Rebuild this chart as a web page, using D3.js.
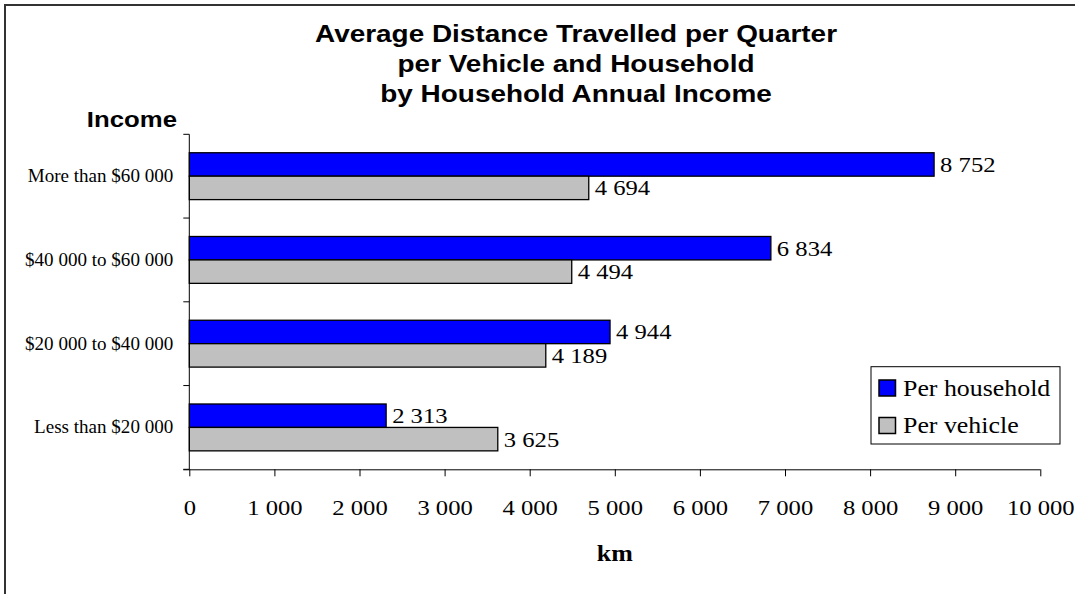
<!DOCTYPE html>
<html>
<head>
<meta charset="utf-8">
<script src="https://cdn.jsdelivr.net/npm/d3@7"></script>
<style>
  html, body { margin: 0; padding: 0; background: #fff; }
  svg { display: block; }
</style>
</head>
<body>
<svg id="chart" width="1075" height="594"></svg>
<script>
// Income brackets, listed from the top of the chart down
const categories = ["More than $60 000", "$40 000 to $60 000", "$20 000 to $40 000", "Less than $20 000"];
const seriesNames = ["Per household", "Per vehicle"];
const perHousehold = [8752, 6834, 4944, 2313];
const perVehicle = [4694, 4494, 4189, 3625];
const xTicks = [0, 1000, 2000, 3000, 4000, 5000, 6000, 7000, 8000, 9000, 10000];
const titleLines = ["Average Distance Travelled per Quarter", "per Vehicle and Household", "by Household Annual Income"];

const colors = { "Per household": "#0000FF", "Per vehicle": "#C0C0C0" };
const SERIF = "'Liberation Serif', 'Times New Roman', serif";
const SANS = "'Liberation Sans', Arial, sans-serif";

const svg = d3.select("#chart");

// outer frame
svg.append("rect")
  .attr("x", 5).attr("y", 5).attr("width", 1100).attr("height", 700)
  .attr("fill", "#fff").attr("stroke", "#333").attr("stroke-width", 2);

const plot = { left: 189.3, right: 1040.3, top: 134.3, bottom: 469.3 };

const x = d3.scaleLinear().domain([0, 10000]).range([plot.left, plot.right]);
const y = d3.scaleBand().domain(categories).range([plot.top, plot.bottom]).padding(0);
const inner = d3.scaleBand().domain(seriesNames).range([0, y.bandwidth()])
  .paddingInner(0).paddingOuter(0.787);

const rows = categories.map((c, i) => ({
  category: c,
  values: [
    { series: "Per household", value: perHousehold[i] },
    { series: "Per vehicle", value: perVehicle[i] }
  ]
}));

const fmt = v => d3.format(",")(v).replace(/,/g, " ");

// bars
const groups = svg.append("g").selectAll("g").data(rows).join("g")
  .attr("transform", d => `translate(0,${y(d.category)})`);

groups.selectAll("rect").data(d => d.values).join("rect")
  .attr("x", x(0))
  .attr("y", d => inner(d.series))
  .attr("width", d => x(d.value) - x(0))
  .attr("height", inner.bandwidth())
  .attr("fill", d => colors[d.series])
  .attr("stroke", "#000").attr("stroke-width", 1.3);

// value labels
groups.selectAll("text").data(d => d.values).join("text")
  .attr("transform", d => `translate(${x(d.value) + 6},${inner(d.series) + inner.bandwidth() / 2 + 7.5}) scale(1.12,1)`)
  .attr("font-family", SERIF).attr("font-size", 22).attr("fill", "#000")
  .text(d => fmt(d.value));

// x axis
const xAxis = svg.append("g")
  .attr("transform", `translate(0,${plot.bottom})`)
  .call(d3.axisBottom(x).tickValues(xTicks).tickSize(7).tickSizeOuter(0).tickFormat(fmt));
xAxis.select(".domain").attr("stroke", "#000").attr("d", `M${plot.left - 6},0.5H${plot.right}`);
xAxis.selectAll(".tick line").attr("stroke", "#000");
xAxis.selectAll(".tick text")
  .attr("y", 46).attr("dy", 0)
  .attr("transform", "scale(1.12,1)")
  .attr("font-family", SERIF).attr("font-size", 22).attr("fill", "#000");

// y axis: line, ticks on band boundaries, labels centred in bands
const yAxis = svg.append("g");
yAxis.append("line")
  .attr("x1", plot.left).attr("x2", plot.left)
  .attr("y1", plot.top).attr("y2", plot.bottom)
  .attr("stroke", "#000");
const bounds = categories.map(c => y(c)).concat([y(categories[categories.length - 1]) + y.bandwidth()]);
yAxis.selectAll("line.tick").data(bounds).join("line")
  .attr("class", "tick")
  .attr("x1", plot.left - 6).attr("x2", plot.left)
  .attr("y1", d => d).attr("y2", d => d)
  .attr("stroke", "#000");
yAxis.selectAll("text").data(categories).join("text")
  .attr("transform", d => `translate(${plot.left - 16},${y(d) + y.bandwidth() / 2 + 6}) scale(1.06,1)`)
  .attr("text-anchor", "end")
  .attr("font-family", SERIF).attr("font-size", 18).attr("fill", "#000")
  .text(d => d);

// axis titles
svg.append("text")
  .attr("transform", `translate(177,126.7) scale(1.12,1)`)
  .attr("text-anchor", "end")
  .attr("font-family", SANS).attr("font-weight", "bold").attr("font-size", 23)
  .text("Income");

svg.append("text")
  .attr("transform", `translate(${(plot.left + plot.right) / 2},561) scale(1.08,1)`)
  .attr("text-anchor", "middle")
  .attr("font-family", SERIF).attr("font-weight", "bold").attr("font-size", 24)
  .text("km");

// chart title
svg.append("g").selectAll("text").data(titleLines).join("text")
  .attr("transform", (d, i) => `translate(576,${42.3 + i * 30}) scale(1.14,1)`)
  .attr("text-anchor", "middle")
  .attr("font-family", SANS).attr("font-weight", "bold").attr("font-size", 24.5)
  .text(d => d);

// legend
const legend = svg.append("g");
legend.append("rect")
  .attr("x", 871).attr("y", 366.7).attr("width", 189).attr("height", 77.3)
  .attr("fill", "#fff").attr("stroke", "#000").attr("stroke-width", 1);
const items = legend.selectAll("g.item").data(seriesNames).join("g")
  .attr("class", "item")
  .attr("transform", (d, i) => `translate(879,${380 + i * 37.5})`);
items.append("rect")
  .attr("width", 16.5).attr("height", 16)
  .attr("fill", d => colors[d])
  .attr("stroke", "#000").attr("stroke-width", 1.5);
items.append("text")
  .attr("transform", "translate(24,15.5) scale(1.15,1)")
  .attr("font-family", SERIF).attr("font-size", 22.5).attr("fill", "#000")
  .text(d => d);
</script>
</body>
</html>
